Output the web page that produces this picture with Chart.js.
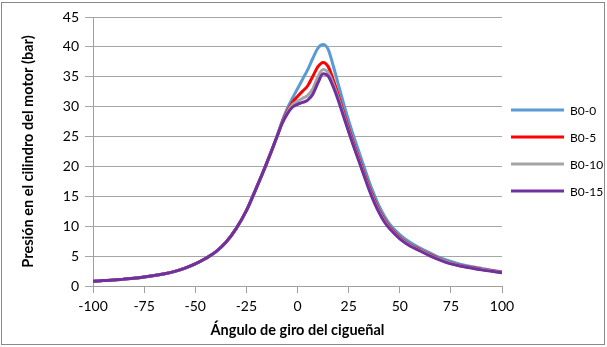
<!DOCTYPE html>
<html lang="es">
<head>
  <meta charset="UTF-8">
  <title>Presión en el cilindro</title>
  <style>
    body { margin: 0; background: #fff; }
    #wrap { position: relative; width: 607px; height: 347px; }
  </style>
</head>
<body>
<div id="wrap"><canvas id="pressChart" width="607" height="347"></canvas></div>

<script src="https://cdn.jsdelivr.net/npm/chart.js"></script>
<script>
  // crank angle (degrees)
  const angles = [-100, -95, -90, -85, -80, -75, -70, -65, -60, -55, -50, -45, -40, -35, -30, -25, -20, -15, -10,
    -7.5, -5, -2.5, 0, 2.5, 5, 7.5, 10, 12.5, 15, 17.5, 20, 22.5, 25, 27.5, 30, 32.5, 35, 37.5, 40, 42.5, 45,
    50, 55, 60, 65, 70, 75, 80, 85, 90, 95, 100];

  // pressure (bar)
  const b0_0 = [0.8, 0.9, 1.0, 1.15, 1.3, 1.5, 1.75, 2.05, 2.45, 3.0, 3.7, 4.6, 5.7, 7.3, 9.6, 12.6, 16.5, 20.6, 25.1,
    27.6, 29.7, 31.4, 33.0, 34.6, 36.2, 38.1, 39.8, 40.4, 39.6, 36.8, 33.7, 30.6, 27.7, 25.0, 22.5, 20.0, 17.5, 15.3, 13.3, 11.7, 10.4,
    8.6, 7.3, 6.35, 5.5, 4.7, 4.1, 3.6, 3.25, 2.95, 2.65, 2.4];
  const b0_5 = [0.8, 0.9, 1.0, 1.15, 1.3, 1.5, 1.75, 2.05, 2.45, 3.0, 3.7, 4.6, 5.7, 7.3, 9.6, 12.6, 16.5, 20.6, 25.0,
    27.4, 29.2, 30.7, 31.7, 32.6, 33.5, 35.1, 36.7, 37.4, 36.7, 34.5, 31.9, 29.1, 26.4, 23.8, 21.4, 19.0, 16.6, 14.5, 12.6, 11.1, 9.9,
    8.15, 6.9, 6.05, 5.2, 4.45, 3.85, 3.4, 3.1, 2.8, 2.55, 2.3];
  const b0_10 = [0.8, 0.9, 1.0, 1.15, 1.3, 1.5, 1.75, 2.05, 2.45, 3.0, 3.7, 4.6, 5.7, 7.3, 9.6, 12.6, 16.5, 20.6, 25.0,
    27.3, 29.0, 30.3, 30.9, 31.4, 31.9, 33.0, 35.0, 36.2, 35.7, 33.8, 31.4, 28.7, 26.0, 23.5, 21.1, 18.7, 16.3, 14.2, 12.4, 10.9, 9.75,
    8.0, 6.8, 5.95, 5.1, 4.4, 3.8, 3.35, 3.05, 2.75, 2.5, 2.25];
  const b0_15 = [0.8, 0.9, 1.0, 1.15, 1.3, 1.5, 1.75, 2.05, 2.45, 3.0, 3.7, 4.6, 5.7, 7.3, 9.6, 12.6, 16.5, 20.6, 25.0,
    27.2, 28.8, 29.9, 30.4, 30.7, 31.1, 32.1, 34.0, 35.5, 35.1, 33.3, 31.0, 28.4, 25.8, 23.3, 20.9, 18.5, 16.1, 14.0, 12.2, 10.7, 9.6,
    7.9, 6.7, 5.85, 5.0, 4.3, 3.7, 3.3, 3.0, 2.7, 2.45, 2.2];

  const seriesNames = ['B0-0', 'B0-5', 'B0-10', 'B0-15'];
  const seriesColors = ['#5b9bd5', '#ff0000', '#a5a5a5', '#7030a0'];
  const seriesValues = [b0_0, b0_5, b0_10, b0_15];

  const FONT = 'Lato, "Open Sans", sans-serif';

  function pts(vals) {
    return angles.map((a, i) => ({ x: a, y: vals[i] }));
  }

  // outer frame + legend on the right
  const framePlugin = {
    id: 'frame',
    afterDraw(chart) {
      const c = chart.ctx;
      c.save();
      c.strokeStyle = '#898989';
      c.lineWidth = 1;
      c.strokeRect(1.5, 2.5, 603, 342);

      const top = 110, step = 27;
      c.font = '12px ' + FONT;
      c.textBaseline = 'middle';
      c.fillStyle = '#000';
      chart.data.datasets.forEach((ds, i) => {
        const y = top + i * step;
        c.strokeStyle = ds.borderColor;
        c.lineWidth = 3;
        c.beginPath();
        c.moveTo(511, y);
        c.lineTo(564, y);
        c.stroke();
        c.fillText(ds.label, 570, y + 1);
      });
      c.restore();
    }
  };

  const ctx = document.getElementById('pressChart').getContext('2d');
  const chart = new Chart(ctx, {
    type: 'line',
    data: {
      datasets: seriesNames.map((name, i) => ({
        label: name,
        data: pts(seriesValues[i]),
        borderColor: seriesColors[i],
        backgroundColor: seriesColors[i],
        borderWidth: 3,
        pointRadius: 0,
        fill: false,
        cubicInterpolationMode: 'monotone',
        order: 4 - i
      }))
    },
    options: {
      responsive: false,
      animation: false,
      layout: { padding: { left: 16, top: 17, right: 105, bottom: 0 } },
      plugins: {
        legend: { display: false },
        tooltip: { enabled: false }
      },
      scales: {
        x: {
          type: 'linear',
          min: -100,
          max: 100,
          ticks: { stepSize: 25, color: '#000', font: { family: FONT, size: 14 }, padding: 5, maxRotation: 0 },
          grid: { drawOnChartArea: false, drawTicks: true, tickLength: 7, color: '#a0a0a0' },
          border: { color: '#a0a0a0' },
          title: { display: true, text: 'Ángulo de giro del cigueñal', color: '#000', font: { family: FONT, size: 14.5, weight: 'bold' }, padding: { top: 4, bottom: 8 } },
          afterFit(scale) { scale.height = 61; }
        },
        y: {
          min: 0,
          max: 45,
          ticks: { stepSize: 5, color: '#000', font: { family: FONT, size: 14 }, padding: 6 },
          grid: { color: '#a6a6a6', tickLength: 8 },
          border: { color: '#a0a0a0' },
          title: { display: true, text: 'Presión en el cilindro del motor (bar)', color: '#000', font: { family: FONT, size: 14.5, weight: 'bold' } },
          afterFit(scale) { scale.width = 77; }
        }
      }
    },
    plugins: [framePlugin]
  });
</script>
</body>
</html>
